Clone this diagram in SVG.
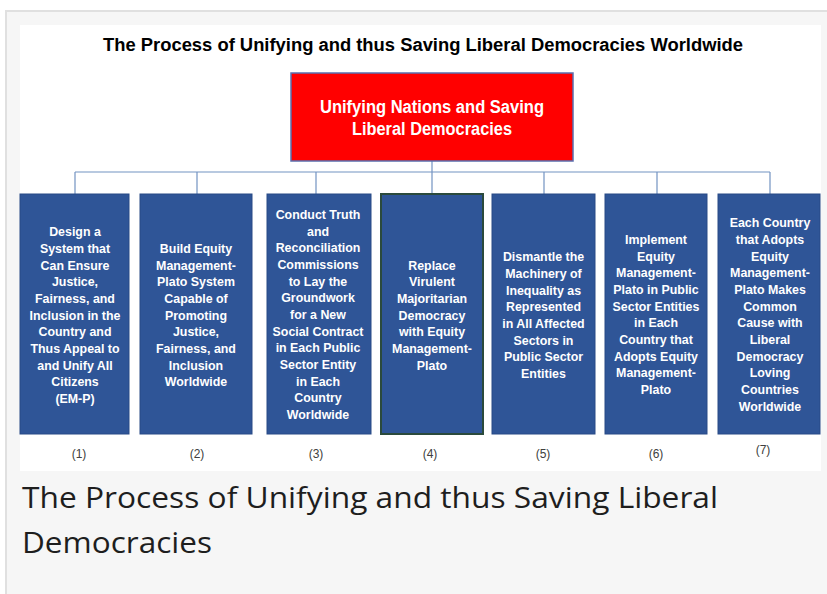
<svg xmlns="http://www.w3.org/2000/svg" width="827" height="594" viewBox="0 0 827 594">
<style>
.box{fill:#2f5597;stroke:#284a86;stroke-width:1}
.bt{font-family:"Liberation Sans",Arial,sans-serif;font-weight:bold;font-size:12.4px;fill:#ffffff;text-anchor:middle}
.num{font-family:"Liberation Sans",Arial,sans-serif;font-size:12px;fill:#404040;text-anchor:middle}
.conn{stroke:#7393c2;stroke-width:1.2;fill:none}
</style>
<rect x="0" y="0" width="827" height="594" fill="#ffffff"/>
<rect x="6" y="11" width="840" height="600" fill="#f6f6f6" stroke="#e0e0e0" stroke-width="2"/>
<rect x="20" y="25" width="801" height="446" fill="#ffffff"/>
<text x="423" y="51" font-family="'Liberation Sans',Arial,sans-serif" font-weight="bold" font-size="18" fill="#000" text-anchor="middle" textLength="640" lengthAdjust="spacingAndGlyphs">The Process of Unifying and thus Saving Liberal Democracies Worldwide</text>
<g id="connectors">
<path class="conn" d="M432 161V194M75 172H770M75 172V194M197 172V194M316 172V194M544 172V194M657 172V194M770 172V194"/>
</g>
<g id="root">
<rect x="291" y="73" width="282" height="88" fill="#ff0000" stroke="#5a6fae" stroke-width="1.5"/>
<text x="432" y="113" font-family="'Liberation Sans',Arial,sans-serif" font-weight="bold" font-size="17.5" fill="#fff" text-anchor="middle" textLength="224" lengthAdjust="spacingAndGlyphs">Unifying Nations and Saving</text>
<text x="432" y="135" font-family="'Liberation Sans',Arial,sans-serif" font-weight="bold" font-size="17.5" fill="#fff" text-anchor="middle" textLength="160" lengthAdjust="spacingAndGlyphs">Liberal Democracies</text>
</g>
<g id="n1">
<rect class="box" x="20" y="194" width="109" height="240"/>
<text class="bt"><tspan x="75" y="236">Design a</tspan><tspan x="75" y="253">System  that</tspan><tspan x="75" y="269.5">Can Ensure</tspan><tspan x="75" y="286">Justice,</tspan><tspan x="75" y="303">Fairness, and</tspan><tspan x="75" y="319.5">Inclusion in the</tspan><tspan x="75" y="336">Country and</tspan><tspan x="75" y="353">Thus Appeal to</tspan><tspan x="75" y="369.5">and Unify All</tspan><tspan x="75" y="386">Citizens</tspan><tspan x="75" y="403">(EM-P)</tspan></text>
<text class="num" x="79" y="458">(1)</text>
</g>
<g id="n2">
<rect class="box" x="140" y="194" width="112" height="240"/>
<text class="bt"><tspan x="196" y="253">Build Equity</tspan><tspan x="196" y="269.5">Management-</tspan><tspan x="196" y="286">Plato System</tspan><tspan x="196" y="303">Capable of</tspan><tspan x="196" y="319.5">Promoting</tspan><tspan x="196" y="336">Justice,</tspan><tspan x="196" y="353">Fairness, and</tspan><tspan x="196" y="369.5">Inclusion</tspan><tspan x="196" y="386">Worldwide</tspan></text>
<text class="num" x="197" y="458">(2)</text>
</g>
<g id="n3">
<rect class="box" x="267" y="194" width="104" height="240"/>
<text class="bt"><tspan x="318" y="219">Conduct Truth</tspan><tspan x="318" y="235.5">and</tspan><tspan x="318" y="252">Reconciliation</tspan><tspan x="318" y="269">Commissions</tspan><tspan x="318" y="285.5">to Lay the</tspan><tspan x="318" y="302">Groundwork</tspan><tspan x="318" y="319">for a New</tspan><tspan x="318" y="335.5">Social Contract</tspan><tspan x="318" y="352">in Each Public</tspan><tspan x="318" y="369">Sector Entity</tspan><tspan x="318" y="385.5">in Each</tspan><tspan x="318" y="402">Country</tspan><tspan x="318" y="419">Worldwide</tspan></text>
<text class="num" x="316" y="458">(3)</text>
</g>
<g id="n4">
<rect x="381" y="194" width="102" height="240" fill="#2f5597" stroke="#2b4a3c" stroke-width="2"/>
<text class="bt"><tspan x="432" y="269.5">Replace</tspan><tspan x="432" y="286">Virulent</tspan><tspan x="432" y="303">Majoritarian</tspan><tspan x="432" y="319.5">Democracy</tspan><tspan x="432" y="336">with Equity</tspan><tspan x="432" y="353">Management-</tspan><tspan x="432" y="369.5">Plato</tspan></text>
<text class="num" x="430" y="458">(4)</text>
</g>
<g id="n5">
<rect class="box" x="492" y="194" width="103" height="240"/>
<text class="bt"><tspan x="543.5" y="261">Dismantle the</tspan><tspan x="543.5" y="278">Machinery of</tspan><tspan x="543.5" y="294.5">Inequality as</tspan><tspan x="543.5" y="311">Represented</tspan><tspan x="543.5" y="328">in All Affected</tspan><tspan x="543.5" y="344.5">Sectors in</tspan><tspan x="543.5" y="361">Public Sector</tspan><tspan x="543.5" y="378">Entities</tspan></text>
<text class="num" x="543" y="458">(5)</text>
</g>
<g id="n6">
<rect class="box" x="605" y="194" width="102" height="240"/>
<text class="bt"><tspan x="656" y="244">Implement</tspan><tspan x="656" y="260.5">Equity</tspan><tspan x="656" y="277">Management-</tspan><tspan x="656" y="294">Plato in Public</tspan><tspan x="656" y="310.5">Sector Entities</tspan><tspan x="656" y="327">in  Each</tspan><tspan x="656" y="344">Country that</tspan><tspan x="656" y="360.5">Adopts Equity</tspan><tspan x="656" y="377">Management-</tspan><tspan x="656" y="394">Plato</tspan></text>
<text class="num" x="656" y="458">(6)</text>
</g>
<g id="n7">
<rect class="box" x="718" y="194" width="102" height="240"/>
<text class="bt"><tspan x="770" y="227">Each Country</tspan><tspan x="770" y="244">that Adopts</tspan><tspan x="770" y="260.5">Equity</tspan><tspan x="770" y="277">Management-</tspan><tspan x="770" y="294">Plato Makes</tspan><tspan x="770" y="310.5">Common</tspan><tspan x="770" y="327">Cause with</tspan><tspan x="770" y="344">Liberal</tspan><tspan x="770" y="360.5">Democracy</tspan><tspan x="770" y="377">Loving</tspan><tspan x="770" y="394">Countries</tspan><tspan x="770" y="410.5">Worldwide</tspan></text>
<text class="num" x="763" y="454">(7)</text>
</g>
<text font-family="'Open Sans','Noto Sans',sans-serif" font-size="29" fill="#1e1e1e"><tspan x="22" y="508" textLength="696" lengthAdjust="spacingAndGlyphs">The Process of Unifying and thus Saving Liberal</tspan><tspan x="22" y="553" textLength="190" lengthAdjust="spacingAndGlyphs">Democracies</tspan></text>
</svg>
